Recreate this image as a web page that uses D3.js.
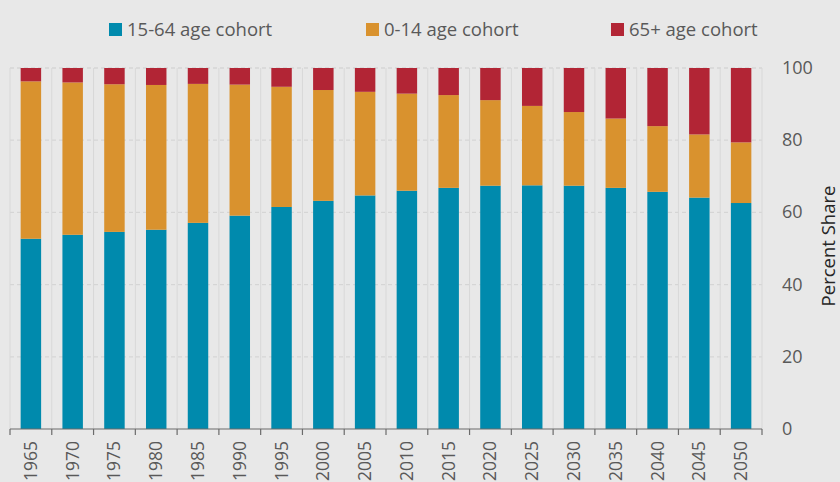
<!DOCTYPE html>
<html>
<head>
<meta charset="utf-8">
<script src="https://cdn.jsdelivr.net/npm/d3@7"></script>
<style>
  html, body { margin: 0; padding: 0; background: #e8e8e8; }
  svg { display: block; font-family: "Open Sans", "Noto Sans", sans-serif; }
</style>
</head>
<body>
<svg id="chart" width="840" height="482"></svg>
<script>
// Population shares by age cohort, percent of total
const years = ["1965","1970","1975","1980","1985","1990","1995","2000","2005","2010",
               "2015","2020","2025","2030","2035","2040","2045","2050"];
const cohort1564 = [52.7, 53.8, 54.6, 55.2, 57.1, 59.1, 61.5, 63.2, 64.7, 66.0,
                    66.8, 67.4, 67.5, 67.4, 66.8, 65.7, 64.1, 62.6];
const cohort014  = [43.6, 42.2, 40.9, 40.1, 38.5, 36.3, 33.3, 30.7, 28.7, 26.9,
                    25.7, 23.7, 22.0, 20.4, 19.2, 18.2, 17.5, 16.8];
const cohort65   = [3.7, 4.0, 4.5, 4.7, 4.4, 4.6, 5.2, 6.1, 6.6, 7.1,
                    7.5, 8.9, 10.5, 12.2, 14.0, 16.1, 18.4, 20.6];
const yTicks = [0, 20, 40, 60, 80, 100];

const seriesNames = ["15-64 age cohort", "0-14 age cohort", "65+ age cohort"];
const seriesColors = ["#008aad", "#d9922e", "#b22535"];

const rows = years.map((y, i) => ({
  year: y,
  "15-64 age cohort": cohort1564[i],
  "0-14 age cohort": cohort014[i],
  "65+ age cohort": cohort65[i]
}));

const svg = d3.select("#chart");
const plotLeft = 10, plotRight = 762, plotTop = 68, plotBottom = 429;

const x = d3.scaleBand().domain(years).range([plotLeft, plotRight]).paddingInner(0.51).paddingOuter(0.255);
const xb = d3.scaleBand().domain(years).range([plotLeft, plotRight]);
const y = d3.scaleLinear().domain([0, 100]).range([plotBottom, plotTop]);

// horizontal dashed gridlines
svg.append("g")
  .selectAll("line")
  .data(yTicks.filter(t => t > 0))
  .join("line")
  .attr("x1", plotLeft).attr("x2", plotRight)
  .attr("y1", d => y(d)).attr("y2", d => y(d))
  .attr("stroke", "#d5d5d5").attr("stroke-width", 1.3)
  .attr("stroke-dasharray", "4,3");

// vertical gridlines at category boundaries
const edges = years.map(d => xb(d)).concat([plotRight]);
svg.append("g")
  .selectAll("line")
  .data(edges)
  .join("line")
  .attr("x1", d => d).attr("x2", d => d)
  .attr("y1", plotTop).attr("y2", plotBottom)
  .attr("stroke", "#d8d8d8").attr("stroke-width", 1);

// stacked bars
const stacked = d3.stack().keys(seriesNames)(rows);
svg.append("g")
  .selectAll("g")
  .data(stacked)
  .join("g")
  .attr("fill", (d, i) => seriesColors[i])
  .selectAll("rect")
  .data(d => d)
  .join("rect")
  .attr("x", d => x(d.data.year))
  .attr("width", x.bandwidth())
  .attr("y", d => y(Math.min(d[1], 100)))
  .attr("height", d => y(d[0]) - y(Math.min(d[1], 100)));

// x axis
const xAxis = svg.append("g")
  .attr("transform", `translate(0,${plotBottom})`);
xAxis.append("line")
  .attr("x1", plotLeft).attr("x2", plotRight)
  .attr("stroke", "#6b6b6b").attr("stroke-width", 1.2);
xAxis.selectAll("line.tick")
  .data(edges)
  .join("line")
  .attr("class", "tick")
  .attr("x1", d => d).attr("x2", d => d)
  .attr("y1", 0).attr("y2", 6)
  .attr("stroke", "#6b6b6b").attr("stroke-width", 1.2);
xAxis.selectAll("text")
  .data(years)
  .join("text")
  .attr("transform", d => `translate(${x(d) + x.bandwidth() / 2 + 6},12) rotate(-90)`)
  .attr("text-anchor", "end")
  .attr("font-size", 17.5)
  .attr("fill", "#595959")
  .text(d => d);

// right y axis labels
svg.append("g")
  .selectAll("text")
  .data(yTicks)
  .join("text")
  .attr("x", 782)
  .attr("y", d => y(d) + 6)
  .attr("font-size", 18)
  .attr("fill", "#595959")
  .text(d => d);

svg.append("text")
  .attr("transform", `translate(835,246) rotate(-90)`)
  .attr("text-anchor", "middle")
  .attr("font-size", 18.5)
  .attr("fill", "#262626")
  .text("Percent Share");

// legend
const legendX = [109, 366, 611];
const legend = svg.append("g")
  .selectAll("g")
  .data(seriesNames)
  .join("g")
  .attr("transform", (d, i) => `translate(${legendX[i]},23)`);
legend.append("rect")
  .attr("width", 13).attr("height", 13)
  .attr("fill", (d, i) => seriesColors[i]);
legend.append("text")
  .attr("x", 18).attr("y", 12.5)
  .attr("font-size", 18.5)
  .attr("fill", "#595959")
  .text(d => d);
</script>
</body>
</html>
